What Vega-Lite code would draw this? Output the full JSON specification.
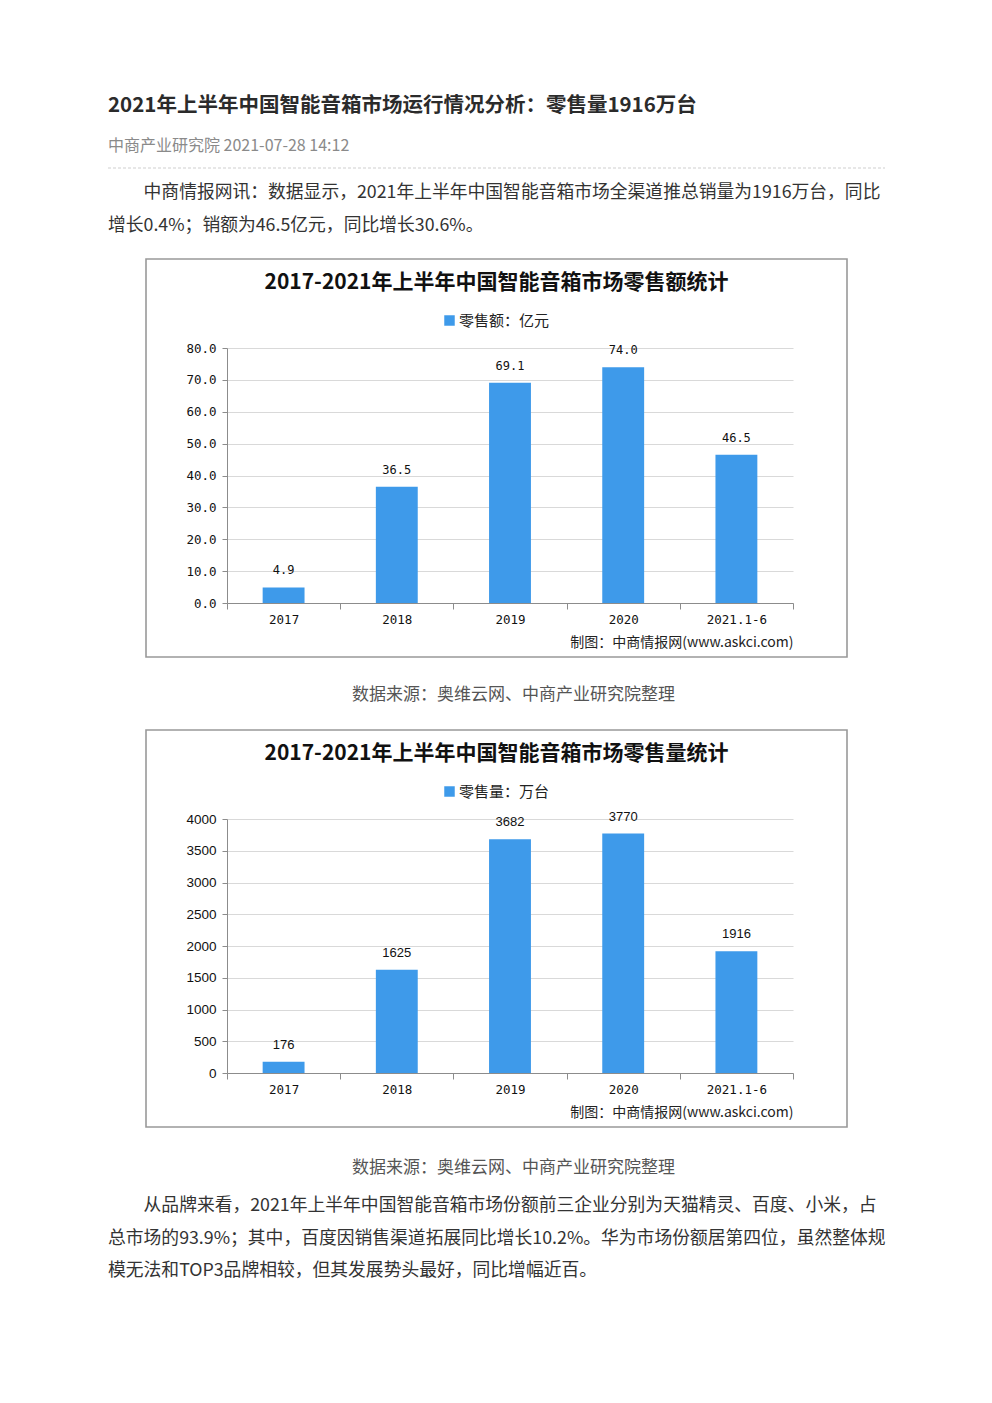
{
  "$schema": "https://vega.github.io/schema/vega-lite/v6.json",
  "background": "white",
  "padding": {"left": 107, "top": 84, "right": 0, "bottom": 0},
  "config": {
    "view": {"stroke": null},
    "font": "Noto Sans CJK SC",
    "text": {"font": "Noto Sans CJK SC"}
  },
  "spacing": 0,
  "bounds": "flush",
  "center": true,
  "resolve": {"scale": {"color": "independent"}, "legend": {"color": "independent"}},
  "vconcat": [
    {
      "width": 777, "height": 44,
      "data": {"values": [{"text": "2021年上半年中国智能音箱市场运行情况分析：零售量1916万台"}]},
      "mark": {"type": "text", "align": "left", "baseline": "middle", "fontSize": 20.5, "fontWeight": "bold", "color": "#2b2b2b"},
      "encoding": {
        "x": {"datum": 0, "type": "quantitative", "scale": {"domain": [0, 1]}, "axis": null},
        "text": {"field": "text"}
      }
    },
    {
      "width": 777, "height": 36,
      "data": {"values": [{"text": "中商产业研究院 2021-07-28 14:12"}]},
      "mark": {"type": "text", "align": "left", "baseline": "middle", "fontSize": 16, "color": "#8a8a8a"},
      "encoding": {
        "x": {"datum": 0, "type": "quantitative", "scale": {"domain": [0, 1]}, "axis": null},
        "text": {"field": "text"}
      }
    },
    {
      "width": 777, "height": 8,
      "data": {"values": [{"kind": "separator"}]},
      "mark": {"type": "rule", "color": "#cfcfcf", "strokeWidth": 1, "strokeDash": [3, 2]},
      "encoding": {
        "x": {"datum": 0, "type": "quantitative", "scale": {"domain": [0, 1]}, "axis": null},
        "x2": {"datum": 1}
      }
    },
    {
      "width": 777, "height": 41,
      "data": {"values": [{"lines": ["\u200b\u3000\u3000中商情报网讯：数据显示，2021年上半年中国智能音箱市场全渠道推总销量为1916万台，同比", "增长0.4%；销额为46.5亿元，同比增长30.6%。"]}]},
      "mark": {"type": "text", "align": "left", "baseline": "middle", "fontSize": 17.8, "lineHeight": 33, "color": "#333333"},
      "encoding": {
        "x": {"datum": 0, "type": "quantitative", "scale": {"domain": [0, 1]}, "axis": null},
        "text": {"field": "lines"}
      }
    },
    {
      "width": 777, "height": 46,
      "data": {"values": []},
      "mark": {"type": "text"},
      "encoding": {"text": {"field": "text"}}
    },
    {
      "width": 701, "height": 398,
      "view": {"stroke": "#999999", "strokeWidth": 1.6, "fill": "white"},
      "title": {"text": "2017-2021年上半年中国智能音箱市场零售额统计", "fontSize": 21, "fontWeight": "bold", "color": "#111111", "anchor": "middle", "offset": -34},
      "data": {"values": [
        {"year": "2017", "value": 4.9, "series": "零售额：亿元"},
        {"year": "2018", "value": 36.5, "series": "零售额：亿元"},
        {"year": "2019", "value": 69.1, "series": "零售额：亿元"},
        {"year": "2020", "value": 74.0, "series": "零售额：亿元"},
        {"year": "2021.1-6", "value": 46.5, "series": "零售额：亿元"}
      ]},
      "encoding": {
        "x": {"field": "year", "type": "nominal", "sort": null,
          "scale": {"range": [81, 647], "paddingInner": 0, "paddingOuter": 0},
          "axis": {"orient": "bottom", "offset": -54, "tickBand": "extent", "labelAngle": 0, "labelFont": "DejaVu Sans Mono", "labelFontSize": 12.5, "labelColor": "#111111", "labelPadding": 4, "tickSize": 6, "tickColor": "#8c8c8c", "domainColor": "#8c8c8c", "grid": false,
            "title": "制图：中商情报网(www.askci.com)", "titleAnchor": "end", "titleAlign": "right", "titleBaseline": "middle", "titleY": 39, "titleFont": "Noto Sans CJK SC", "titleFontSize": 14, "titleFontWeight": "normal", "titleColor": "#222222"}},
        "y": {"field": "value", "type": "quantitative",
          "scale": {"domain": [0, 80], "range": [344, 89], "nice": false},
          "axis": {"orient": "left", "offset": -81, "tickCount": 8, "format": ".1f", "labelFont": "DejaVu Sans Mono", "labelFontSize": 12.5, "labelColor": "#111111", "labelPadding": 6, "tickSize": 5, "tickColor": "#8c8c8c", "domainColor": "#8c8c8c", "grid": true, "gridColor": "#d9d9d9", "title": null}}
      },
      "layer": [
        {
          "mark": {"type": "bar", "width": {"band": 0.37}},
          "encoding": {
            "color": {"field": "series", "type": "nominal", "scale": {"range": ["#3e9aea"]},
              "legend": {"orient": "none", "legendX": 296, "legendY": 54, "title": null, "symbolType": "square", "symbolSize": 110, "symbolStrokeWidth": 0, "labelFont": "Noto Sans CJK SC", "labelFontSize": 15, "labelColor": "#222222", "padding": 0, "labelOffset": 2}}
          }
        },
        {
          "mark": {"type": "text", "baseline": "middle", "dy": -17, "font": "DejaVu Sans Mono", "fontSize": 12, "color": "#111111"},
          "encoding": {"text": {"field": "value", "type": "quantitative", "format": ".1f"}}
        }
      ]
    },
    {
      "width": 777, "height": 3,
      "data": {"values": []},
      "mark": {"type": "text"},
      "encoding": {"text": {"field": "text"}}
    },
    {
      "width": 777, "height": 70,
      "data": {"values": [{"text": "\u200b\u3000\u3000数据来源：奥维云网、中商产业研究院整理"}]},
      "mark": {"type": "text", "align": "center", "baseline": "middle", "fontSize": 17, "color": "#555555"},
      "encoding": {"text": {"field": "text"}}
    },
    {
      "width": 701, "height": 397,
      "view": {"stroke": "#999999", "strokeWidth": 1.6, "fill": "white"},
      "title": {"text": "2017-2021年上半年中国智能音箱市场零售量统计", "fontSize": 21, "fontWeight": "bold", "color": "#111111", "anchor": "middle", "offset": -34},
      "data": {"values": [
        {"year": "2017", "value": 176, "series": "零售量：万台"},
        {"year": "2018", "value": 1625, "series": "零售量：万台"},
        {"year": "2019", "value": 3682, "series": "零售量：万台"},
        {"year": "2020", "value": 3770, "series": "零售量：万台"},
        {"year": "2021.1-6", "value": 1916, "series": "零售量：万台"}
      ]},
      "encoding": {
        "x": {"field": "year", "type": "nominal", "sort": null,
          "scale": {"range": [81, 647], "paddingInner": 0, "paddingOuter": 0},
          "axis": {"orient": "bottom", "offset": -54, "tickBand": "extent", "labelAngle": 0, "labelFont": "DejaVu Sans Mono", "labelFontSize": 12.5, "labelColor": "#111111", "labelPadding": 4, "tickSize": 6, "tickColor": "#8c8c8c", "domainColor": "#8c8c8c", "grid": false,
            "title": "制图：中商情报网(www.askci.com)", "titleAnchor": "end", "titleAlign": "right", "titleBaseline": "middle", "titleY": 39, "titleFont": "Noto Sans CJK SC", "titleFontSize": 14, "titleFontWeight": "normal", "titleColor": "#222222"}},
        "y": {"field": "value", "type": "quantitative",
          "scale": {"domain": [0, 4000], "range": [343, 89], "nice": false},
          "axis": {"orient": "left", "offset": -81, "tickCount": 8, "format": "d", "labelFont": "Liberation Sans", "labelFontSize": 13.5, "labelColor": "#111111", "labelPadding": 6, "tickSize": 5, "tickColor": "#8c8c8c", "domainColor": "#8c8c8c", "grid": true, "gridColor": "#d9d9d9", "title": null}}
      },
      "layer": [
        {
          "mark": {"type": "bar", "width": {"band": 0.37}},
          "encoding": {
            "color": {"field": "series", "type": "nominal", "scale": {"range": ["#3e9aea"]},
              "legend": {"orient": "none", "legendX": 296, "legendY": 54, "title": null, "symbolType": "square", "symbolSize": 110, "symbolStrokeWidth": 0, "labelFont": "Noto Sans CJK SC", "labelFontSize": 15, "labelColor": "#222222", "padding": 0, "labelOffset": 2}}
          }
        },
        {
          "mark": {"type": "text", "baseline": "middle", "dy": -17, "font": "Liberation Sans", "fontSize": 13, "color": "#111111"},
          "encoding": {"text": {"field": "value", "type": "quantitative", "format": "d"}}
        }
      ]
    },
    {
      "width": 777, "height": 3,
      "data": {"values": []},
      "mark": {"type": "text"},
      "encoding": {"text": {"field": "text"}}
    },
    {
      "width": 777, "height": 75,
      "data": {"values": [{"text": "\u200b\u3000\u3000数据来源：奥维云网、中商产业研究院整理"}]},
      "mark": {"type": "text", "align": "center", "baseline": "middle", "fontSize": 17, "color": "#555555"},
      "encoding": {"text": {"field": "text"}}
    },
    {
      "width": 777, "height": 20,
      "data": {"values": [{"lines": ["\u200b\u3000\u3000从品牌来看，2021年上半年中国智能音箱市场份额前三企业分别为天猫精灵、百度、小米，占", "总市场的93.9%；其中，百度因销售渠道拓展同比增长10.2%。华为市场份额居第四位，虽然整体规", "模无法和TOP3品牌相较，但其发展势头最好，同比增幅近百。"]}]},
      "mark": {"type": "text", "align": "left", "baseline": "bottom", "fontSize": 17.8, "lineHeight": 32.5, "color": "#333333"},
      "encoding": {
        "x": {"datum": 0, "type": "quantitative", "scale": {"domain": [0, 1]}, "axis": null},
        "text": {"field": "lines"}
      }
    }
  ]
}
